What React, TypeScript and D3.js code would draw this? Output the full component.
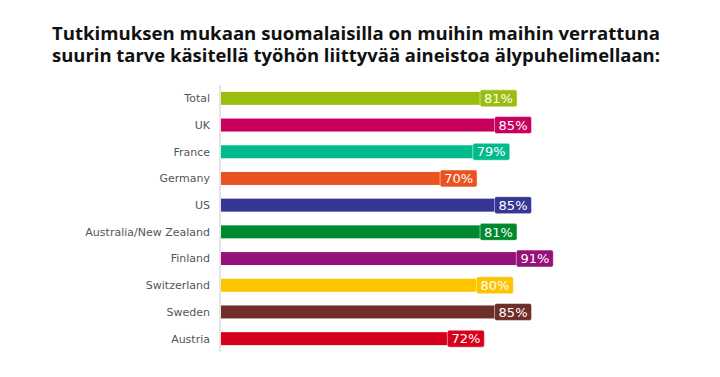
import React from "react";
import * as d3 from "d3";

const titleLines = [
  "Tutkimuksen mukaan suomalaisilla on muihin maihin verrattuna",
  "suurin tarve käsitellä työhön liittyvää aineistoa älypuhelimellaan:",
];
const categories = [
  "Total", "UK", "France", "Germany", "US",
  "Australia/New Zealand", "Finland", "Switzerland", "Sweden", "Austria",
];
const values = [81, 85, 79, 70, 85, 81, 91, 80, 85, 72];
const colors = [
  "#9bbe0e", "#c7005e", "#00bc8d", "#e9531f", "#363794",
  "#008a2f", "#961178", "#fdc400", "#6f2e29", "#d7001b",
];

export default function App() {
  const W = 720, H = 377;
  const x = d3.scaleLinear().domain([0, 100]).range([221, 584]);
  const y = d3.scaleBand<string>().domain(categories).range([85, 352]).paddingInner(0.5).paddingOuter(0.25);
  const bh = y.bandwidth();
  return (
    <svg width={W} height={H} style={{ position: "absolute", left: 0, top: 0 }}>
      <rect width={W} height={H} fill="#fff" />
      {titleLines.map((t, i) => (
        <text key={i} x={356} y={40 + i * 22} textAnchor="middle"
          fontFamily="'Open Sans', sans-serif" fontWeight="bold" fontSize={18} fill="#111"
          textLength={608} lengthAdjust="spacingAndGlyphs">{t}</text>
      ))}
      <line x1={220} x2={220} y1={85} y2={352} stroke="#dcdcdc" strokeWidth={1.5} />
      {categories.map((c, i) => {
        const yc = (y(c) as number) + bh / 2;
        const xe = x(values[i]);
        return (
          <g key={c}>
            <text x={210} y={yc} dy="0.35em" textAnchor="end"
              fontFamily="'DejaVu Sans', Verdana, sans-serif" fontSize={11} fill="#555">{c}</text>
            <rect x={x(0)} y={yc - 6.5} width={xe - x(0)} height={13} fill={colors[i]} />
            <rect x={xe - 35} y={yc - 8.5} width={37} height={17} rx={2} ry={2}
              fill={colors[i]} stroke="rgba(255,255,255,0.5)" strokeWidth={1} />
            <text x={xe - 16.5} y={yc} dy="0.36em" textAnchor="middle"
              fontFamily="'DejaVu Sans', Verdana, sans-serif" fontSize={13} fill="#fff">{values[i]}%</text>
          </g>
        );
      })}
    </svg>
  );
}
